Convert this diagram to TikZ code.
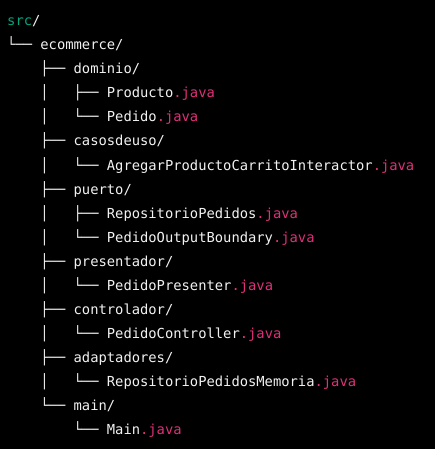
\documentclass[tikz,border=0pt]{standalone}
\usepackage{fontspec}
\usepackage{xcolor}
\newfontfamily\codefont{DejaVu Sans Mono}
\definecolor{codebg}{HTML}{000000}
\definecolor{codetext}{HTML}{F2F2F2}
\definecolor{dirgreen}{HTML}{00A67D}
\definecolor{extpink}{HTML}{DF3079}
\newcommand{\jv}{\textcolor{extpink}{.java}}
\tikzset{
	row/.style = {anchor=base west, inner sep=0pt, text=codetext,
		font=\codefont\fontsize{13.8pt}{16pt}\selectfont}
}
\begin{document}
\begin{tikzpicture}[x=1pt,y=1pt]
	\fill[codebg] (0,0) rectangle (435,-449);
	\useasboundingbox (0,0) rectangle (435,-449);
	% one node per line of the tree
	\node (src)         at (7, -26)	[row]	{\textcolor{dirgreen}{src}/};
	\node (ecommerce)   at (7, -50)	[row]	{└──~ecommerce/};
	\node (dominio)     at (7, -74)	[row]	{~~~~├──~dominio/};
	\node (producto)    at (7, -98)	[row]	{~~~~│~~~├──~Producto\jv};
	\node (pedido)      at (7,-122)	[row]	{~~~~│~~~└──~Pedido\jv};
	\node (casosdeuso)  at (7,-146)	[row]	{~~~~├──~casosdeuso/};
	\node (interactor)  at (7,-170)	[row]	{~~~~│~~~└──~AgregarProductoCarritoInteractor\jv};
	\node (puerto)      at (7,-194)	[row]	{~~~~├──~puerto/};
	\node (repositorio) at (7,-218)	[row]	{~~~~│~~~├──~RepositorioPedidos\jv};
	\node (boundary)    at (7,-242)	[row]	{~~~~│~~~└──~PedidoOutputBoundary\jv};
	\node (presentador) at (7,-266)	[row]	{~~~~├──~presentador/};
	\node (presenter)   at (7,-290)	[row]	{~~~~│~~~└──~PedidoPresenter\jv};
	\node (controlador) at (7,-314)	[row]	{~~~~├──~controlador/};
	\node (controller)  at (7,-338)	[row]	{~~~~│~~~└──~PedidoController\jv};
	\node (adaptadores) at (7,-362)	[row]	{~~~~├──~adaptadores/};
	\node (memoria)     at (7,-386)	[row]	{~~~~│~~~└──~RepositorioPedidosMemoria\jv};
	\node (maindir)     at (7,-410)	[row]	{~~~~└──~main/};
	\node (mainjava)    at (7,-434)	[row]	{~~~~~~~~└──~Main\jv};
\end{tikzpicture}
\end{document}
